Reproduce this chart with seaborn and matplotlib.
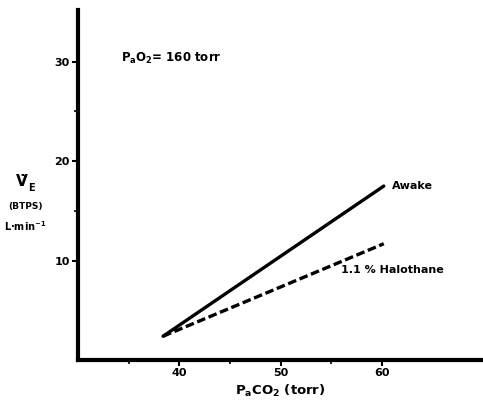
import matplotlib
matplotlib.use("Agg")
import matplotlib.pyplot as plt
import seaborn as sns
import pandas as pd
from matplotlib.ticker import FixedLocator

sns.set_theme(style="ticks")
plt.rcParams['font.family'] = ['DejaVu Sans']
plt.rcParams['text.color'] = 'black'
plt.rcParams['axes.labelcolor'] = 'black'
plt.rcParams['xtick.color'] = 'black'
plt.rcParams['ytick.color'] = 'black'

series = ["Awake", "Awake", "1.1 % Halothane", "1.1 % Halothane"]
paco2 = [38.4, 60.2, 38.4, 60.2]
ve = [2.4, 17.5, 2.4, 11.7]
df = pd.DataFrame({"series": series, "PaCO2": paco2, "VE": ve})

x_major = [40, 50, 60]
x_minor = [35, 45, 55]
y_major = [10, 20, 30]
y_minor = [15, 25]

fig = plt.figure(figsize=(4.83, 4.01), dpi=100)
ax = fig.add_axes([0.1615, 0.102, 0.8385, 0.873])

sns.lineplot(data=df, x="PaCO2", y="VE", hue="series", style="series",
             palette={"Awake": "black", "1.1 % Halothane": "black"},
             dashes={"Awake": "", "1.1 % Halothane": (2.6, 1.1)},
             linewidth=2.4, legend=False, ax=ax)

ax.set_xlim(30, 70)
ax.set_ylim(0, 35.2)
ax.set_xticks(x_major)
ax.set_yticks(y_major)
ax.xaxis.set_minor_locator(FixedLocator(x_minor))
ax.yaxis.set_minor_locator(FixedLocator(y_minor))
ax.tick_params(axis='both', which='major', length=4, width=1.5, labelsize=8, pad=2, color='black', labelcolor='black')
ax.tick_params(axis='both', which='minor', length=3, width=1.2, color='black')
for lab in ax.get_xticklabels() + ax.get_yticklabels():
    lab.set_fontweight('bold')

sns.despine(ax=ax)
ax.spines['left'].set_linewidth(3)
ax.spines['bottom'].set_linewidth(3)
ax.spines['left'].set_color('black')
ax.spines['bottom'].set_color('black')

ax.set_xlabel(r"P$_{\mathbf{a}}$CO$_{\mathbf{2}}$ (torr)", fontsize=9.5, fontweight='bold', labelpad=3, color='black')
ax.set_ylabel("")

fig.text(0.058, 0.548, "V\u0307", fontsize=11, fontweight='bold', ha='right', va='center')
fig.text(0.059, 0.532, "E", fontsize=7, fontweight='bold', ha='left', va='center')
fig.text(0.052, 0.484, "(BTPS)", fontsize=6.5, fontweight='bold', ha='center', va='center')
fig.text(0.052, 0.437, r"L·min$^{\mathbf{-1}}$", fontsize=7, fontweight='bold', ha='center', va='center')

ax.text(34.2, 30.3, r"P$_{\mathbf{a}}$O$_{\mathbf{2}}$= 160 torr", fontsize=8.5, fontweight='bold', va='center')
ax.text(61.0, 17.5, "Awake", fontsize=8, fontweight='bold', va='center')
ax.text(56.0, 9.1, "1.1 % Halothane", fontsize=8, fontweight='bold', va='center')

fig.savefig("out.png", dpi=100)
